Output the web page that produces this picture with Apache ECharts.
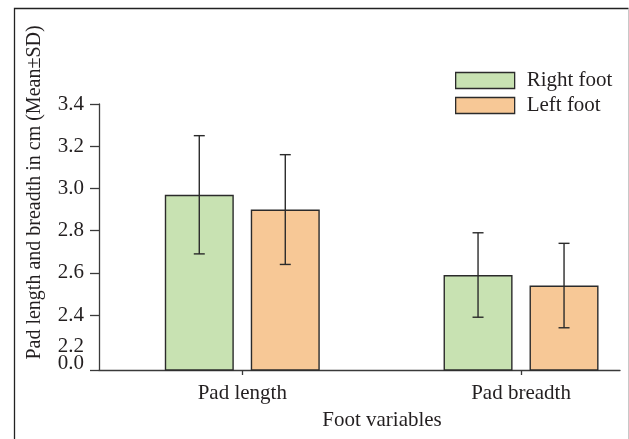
<!DOCTYPE html>
<html>
<head>
<meta charset="utf-8">
<script src="https://cdn.jsdelivr.net/npm/echarts@6/dist/echarts.min.js"></script>
<style>
html,body{margin:0;padding:0;background:#fff;}
#chart{width:629px;height:439px;}
</style>
</head>
<body>
<div id="chart"></div>
<script>
// ---- data ----
const categories = ['Pad length', 'Pad breadth'];
const seriesNames = ['Right foot', 'Left foot'];
const rightMean = [2.97, 2.59];
const rightSD = [0.28, 0.20];
const leftMean = [2.90, 2.54];
const leftSD = [0.26, 0.20];
// y tick labels (axis has a break between 0.0 and 2.2)
const yTickValues = [2.4, 2.6, 2.8, 3.0, 3.2, 3.4];
const yTickLabels = ['0.0', '2.2', '2.4', '2.6', '2.8', '3.0', '3.2', '3.4'];

// ---- layout ----
const FONT = 'Liberation Serif';
const TXT = '#231f20';
const AX = '#3a3a3a';
const GREEN = '#c8e2b2';
const ORANGE = '#f7c896';
const BAR_W = 69, GAP = 17;
const Y_MIN = 2.14, Y_MAX = 3.4;
// the "2.2 / 0.0" pair near the axis break is drawn as one two-line label
const BREAK_LABEL_AT = 2.2128;
const yLabelAt = [BREAK_LABEL_AT].concat(yTickValues);

function errSeries(name, means, sds, sign) {
  return {
    type: 'custom', name: name + ' SD', z: 5,
    data: means.map((m, i) => [i, m, m - sds[i], m + sds[i]]),
    renderItem: function (params, api) {
      const x = api.value(0);
      const lo = api.coord([x, api.value(2)]);
      const hi = api.coord([x, api.value(3)]);
      const cx = lo[0] + sign * (BAR_W + GAP) / 2;
      const cap = 5.5;
      const st = { stroke: '#2b2b2b', lineWidth: 1.4 };
      return {
        type: 'group',
        children: [
          { type: 'line', shape: { x1: cx, y1: lo[1], x2: cx, y2: hi[1] }, style: st },
          { type: 'line', shape: { x1: cx - cap, y1: hi[1], x2: cx + cap, y2: hi[1] }, style: st },
          { type: 'line', shape: { x1: cx - cap, y1: lo[1], x2: cx + cap, y2: lo[1] }, style: st }
        ]
      };
    }
  };
}

const chart = echarts.init(document.getElementById('chart'), null, { renderer: 'canvas' });
chart.setOption({
  animation: false,
  backgroundColor: '#fff',
  textStyle: { fontFamily: FONT, color: TXT },
  grid: { left: 99, right: 9, top: 104, bottom: 69, containLabel: false },
  legend: {
    data: seriesNames,
    orient: 'vertical',
    left: 455, top: 70,
    padding: 0,
    icon: 'rect',
    itemWidth: 59, itemHeight: 16, itemGap: 4,
    itemStyle: { borderColor: '#2b2b2b', borderWidth: 1.3 },
    textStyle: { fontFamily: FONT, fontSize: 21, color: TXT, padding: [0, 0, 0, 7] }
  },
  xAxis: {
    type: 'value',
    min: -0.514, max: 1.355,
    splitLine: { show: false },
    axisLine: { show: true, onZero: false, lineStyle: { color: AX, width: 1.3 } },
    axisTick: { show: true, customValues: [0, 1], length: 5, lineStyle: { color: AX, width: 1.3 } },
    axisLabel: {
      customValues: [0, 1],
      formatter: v => categories[Math.round(v)],
      fontFamily: FONT, fontSize: 21, color: TXT, margin: 13
    },
    name: 'Foot variables',
    nameLocation: 'middle', nameGap: 40,
    nameTextStyle: { fontFamily: FONT, fontSize: 21, color: TXT, padding: [0, 0, 0, 45] }
  },
  yAxis: {
    type: 'value',
    min: Y_MIN, max: Y_MAX,
    splitLine: { show: false },
    axisLine: { show: true, onZero: false, lineStyle: { color: AX, width: 1.3 } },
    axisTick: { show: true, customValues: [Y_MIN].concat(yTickValues), length: 9, lineStyle: { color: AX, width: 1.3 } },
    axisLabel: {
      customValues: yLabelAt,
      showMinLabel: true, showMaxLabel: true, hideOverlap: false,
      lineHeight: 17,
      formatter: function (v) {
        if (Math.abs(v - BREAK_LABEL_AT) < 1e-6) return yTickLabels[1] + '\n' + yTickLabels[0];
        let best = 2, d = 1e9;
        yTickValues.forEach((p, i) => { const dd = Math.abs(p - v); if (dd < d) { d = dd; best = i + 2; } });
        return yTickLabels[best];
      },
      fontFamily: FONT, fontSize: 21, color: TXT, margin: 15
    },
    name: 'Pad length and breadth in cm (Mean\u00B1SD)',
    nameLocation: 'middle', nameGap: 54, nameRotate: 90,
    nameTextStyle: { fontFamily: FONT, fontSize: 20, color: TXT, padding: [0, 0, 0, 89] }
  },
  series: [
    {
      type: 'bar', name: seriesNames[0],
      data: rightMean.map((m, i) => [i, m]),
      barWidth: BAR_W, barGap: (GAP / BAR_W * 100).toFixed(1) + '%',
      itemStyle: { color: GREEN, borderColor: '#2b2b2b', borderWidth: 1.4 }
    },
    {
      type: 'bar', name: seriesNames[1],
      data: leftMean.map((m, i) => [i, m]),
      barWidth: BAR_W, barGap: (GAP / BAR_W * 100).toFixed(1) + '%',
      itemStyle: { color: ORANGE, borderColor: '#2b2b2b', borderWidth: 1.4 }
    },
    errSeries(seriesNames[0], rightMean, rightSD, -1),
    errSeries(seriesNames[1], leftMean, leftSD, 1)
  ],
  graphic: [
    { type: 'polyline', silent: true, shape: { points: [[14.5, 439], [14.5, 8.5], [628.5, 8.5]] }, style: { fill: null, stroke: '#222', lineWidth: 1.3 } },
    { type: 'line', silent: true, shape: { x1: 628.5, y1: 9, x2: 628.5, y2: 439 }, style: { stroke: '#c8c8c8', lineWidth: 1 } }
  ]
});
</script>
</body>
</html>
